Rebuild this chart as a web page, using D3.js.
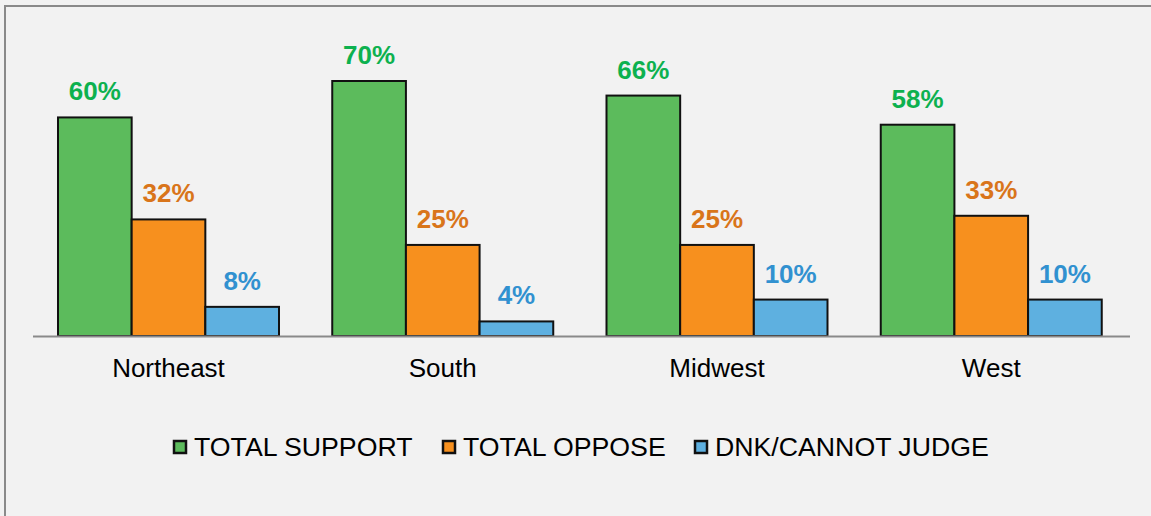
<!DOCTYPE html>
<html>
<head>
<meta charset="utf-8">
<script src="https://cdn.jsdelivr.net/npm/d3@7"></script>
<style>
  body { margin: 0; background: #fff; }
  svg { display: block; }
</style>
</head>
<body>
<svg id="canvas" width="1151" height="516"></svg>
<script>
let regions = ["Northeast", "South", "Midwest", "West"]
let seriesNames = ["TOTAL SUPPORT", "TOTAL OPPOSE", "DNK/CANNOT JUDGE"]
let support = [60, 70, 66, 58]
let oppose = [32, 25, 25, 33]
let dnk = [8, 4, 10, 10]

let fills = ["#5cbb5c", "#f7901e", "#5eb0e0"]
let labelColors = ["#0db14f", "#d9751a", "#3191d0"]

let canvas = d3.select('#canvas')

// panel background + border (only top/left visible, rest cropped)
canvas.append('rect')
  .attr('x', 0).attr('y', 0).attr('width', 1151).attr('height', 516)
  .attr('fill', '#f2f2f2')
canvas.append('path')
  .attr('d', 'M5,516 V6 H1151')
  .attr('fill', 'none')
  .attr('stroke', '#8a8a8a')
  .attr('stroke-width', 2)

let baseY = 336
let x0 = d3.scaleBand().domain(regions).range([33, 1130]).paddingInner(0).paddingOuter(0)
let x1 = d3.scaleBand().domain(seriesNames).range([25, 246])
let y = d3.scaleLinear().domain([0, 70]).range([baseY, 81])

let rows = regions.map((r, i) => ({
  region: r,
  vals: [support[i], oppose[i], dnk[i]]
}))

let groups = canvas.append('g').selectAll('g')
  .data(rows)
  .enter()
  .append('g')
  .attr('transform', d => `translate(${x0(d.region)},0)`)

groups.selectAll('rect')
  .data(d => d.vals.map((v, k) => ({ v: v, k: k })))
  .enter()
  .append('rect')
  .attr('x', d => x1(seriesNames[d.k]))
  .attr('y', d => y(d.v))
  .attr('width', x1.bandwidth())
  .attr('height', d => baseY - y(d.v))
  .attr('fill', d => fills[d.k])
  .attr('stroke', '#111')
  .attr('stroke-width', 2)

groups.selectAll('text.val')
  .data(d => d.vals.map((v, k) => ({ v: v, k: k })))
  .enter()
  .append('text')
  .attr('class', 'val')
  .attr('x', d => x1(seriesNames[d.k]) + x1.bandwidth() / 2)
  .attr('y', d => y(d.v) - 17)
  .attr('text-anchor', 'middle')
  .attr('font-family', 'Liberation Sans, Arial, sans-serif')
  .attr('font-weight', 'bold')
  .attr('font-size', 26)
  .attr('fill', d => labelColors[d.k])
  .text(d => d.v + '%')

// axis baseline
canvas.append('line')
  .attr('x1', 33).attr('x2', 1130)
  .attr('y1', baseY + 0.5).attr('y2', baseY + 0.5)
  .attr('stroke', '#8a8a8a')
  .attr('stroke-width', 2)

// category labels
groups.append('text')
  .attr('x', x1.range()[0] + (x1.range()[1] - x1.range()[0]) / 2)
  .attr('y', 377)
  .attr('text-anchor', 'middle')
  .attr('font-family', 'Liberation Sans, Arial, sans-serif')
  .attr('font-size', 26)
  .attr('fill', '#000')
  .text(d => d.region)

// legend
let legendX = [174, 443, 695]
let legend = canvas.append('g').selectAll('g')
  .data(seriesNames)
  .enter()
  .append('g')
  .attr('transform', (d, i) => `translate(${legendX[i]},441)`)

legend.append('rect')
  .attr('x', 0).attr('y', 0)
  .attr('width', 12).attr('height', 12)
  .attr('fill', (d, i) => fills[i])
  .attr('stroke', '#111')
  .attr('stroke-width', 2.5)

legend.append('text')
  .attr('x', 20)
  .attr('y', 15)
  .attr('font-family', 'Liberation Sans, Arial, sans-serif')
  .attr('font-size', 26.7)
  .attr('fill', '#000')
  .text(d => d)
</script>
</body>
</html>
